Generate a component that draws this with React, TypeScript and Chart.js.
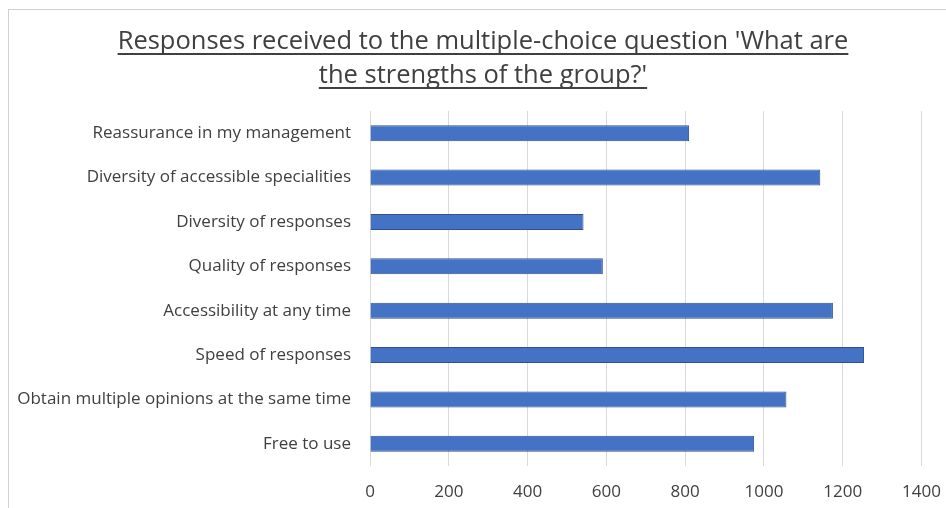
import React, { useEffect, useRef } from "react";
import { Chart, registerables } from "chart.js";

Chart.register(...registerables);

const titleLines = [
  "Responses received to the multiple-choice question 'What are",
  "the strengths of the group?'",
];

const categories = [
  "Reassurance in my management",
  "Diversity of accessible specialities",
  "Diversity of responses",
  "Quality of responses",
  "Accessibility at any time",
  "Speed of responses",
  "Obtain multiple opinions at the same time",
  "Free to use",
];

const responses = [810, 1143, 542, 591, 1175, 1254, 1057, 975];

const xMin = 0;
const xMax = 1400;
const xStep = 200;

const FONT = "'Open Sans', Lato, sans-serif";
const TEXT = "#404040";

const underlinedTitle = {
  id: "underlinedTitle",
  afterDraw(chart: any) {
    const ctx = chart.ctx;
    ctx.save();
    ctx.font = `25.5px ${FONT}`;
    ctx.fillStyle = TEXT;
    ctx.strokeStyle = TEXT;
    ctx.textAlign = "center";
    ctx.textBaseline = "alphabetic";
    ctx.lineWidth = 2;
    const cx = 474;
    titleLines.forEach((line, i) => {
      const y = 39 + i * 34;
      ctx.fillText(line, cx, y);
      const w = ctx.measureText(line).width;
      ctx.beginPath();
      ctx.moveTo(cx - w / 2, y + 5);
      ctx.lineTo(cx + w / 2, y + 5);
      ctx.stroke();
    });
    ctx.restore();
  },
};

export default function App() {
  const ref = useRef<HTMLCanvasElement | null>(null);

  useEffect(() => {
    if (!ref.current) return;
    const chart = new Chart(ref.current, {
      type: "bar",
      data: {
        labels: categories,
        datasets: [
          {
            data: responses,
            backgroundColor: "#4472C4",
            borderColor: "#2F528F",
            borderWidth: 1,
            barPercentage: 0.36,
            categoryPercentage: 1,
          },
        ],
      },
      options: {
        indexAxis: "y",
        animation: false,
        responsive: false,
        maintainAspectRatio: false,
        layout: { padding: { top: 101, right: 4, left: 0, bottom: 0 } },
        plugins: {
          legend: { display: false },
          title: { display: false },
          tooltip: { enabled: false },
        },
        scales: {
          x: {
            min: xMin,
            max: xMax,
            ticks: {
              stepSize: xStep,
              color: TEXT,
              font: { family: FONT, size: 17 },
              padding: 16,
              maxRotation: 0,
              callback: (v: any) => String(v),
            },
            grid: { color: "#d9d9d9", lineWidth: 1, drawTicks: false },
            border: { display: false },
            afterFit: (scale: any) => {
              scale.height = 42;
            },
          },
          y: {
            ticks: {
              color: TEXT,
              font: { family: FONT, size: 17 },
              padding: 19,
            },
            grid: { display: false, drawTicks: false },
            border: { display: false },
            afterFit: (scale: any) => {
              scale.width = 361;
            },
          },
        },
      },
      plugins: [underlinedTitle],
    });
    return () => chart.destroy();
  }, []);

  return (
    <div
      style={{
        position: "absolute",
        left: 8,
        top: 9,
        width: 937,
        height: 498,
        overflow: "hidden",
        borderLeft: "1px solid #d0d0d0",
        borderTop: "1px solid #d0d0d0",
        background: "#fff",
      }}
    >
      <canvas ref={ref} width={948} height={498} style={{ display: "block" }} />
    </div>
  );
}
